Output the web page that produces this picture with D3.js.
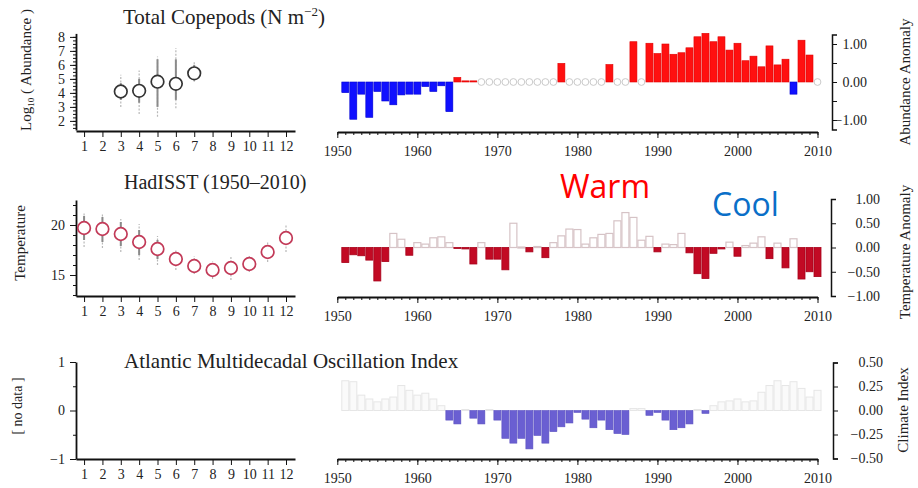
<!DOCTYPE html>
<html>
<head>
<meta charset="utf-8">
<script src="https://cdn.jsdelivr.net/npm/d3@7"></script>
<style>
  body { margin: 0; background: #fff; }
  svg text { font-family: "Liberation Serif", "DejaVu Serif", serif; fill: #222; }
  .axis path, .axis line { stroke: #111; }
  .axis text { font-size: 14px; font-family: "Liberation Serif", serif; fill: #222; }
</style>
</head>
<body>
<svg width="918" height="488"></svg>
<script>
// ---- data ----
const years = d3.range(1951, 2011);
const months = d3.range(1, 13);

// copepod monthly climatology (log10 abundance)
const copMonths = [3, 4, 5, 6, 7];
const copMean = [4.1, 4.15, 4.8, 4.65, 5.4];
const copSdLo = [3.5, 3.3, 3.0, 3.5, 4.9];
const copSdHi = [4.7, 5.0, 6.4, 6.4, 6.0];
const copMin = [3.0, 2.5, 2.3, 2.9, 4.8];
const copMax = [5.3, 5.6, 6.6, 7.2, 6.2];

// HadISST monthly climatology (deg C)
const sstMean = [19.7, 19.6, 19.1, 18.3, 17.6, 16.6, 15.9, 15.5, 15.7, 16.1, 17.3, 18.7];
const sstSdLo = [18.5, 18.3, 17.9, 17.0, 16.6, 15.9, 15.4, 14.9, 15.0, 15.6, 16.7, 18.0];
const sstSdHi = [20.9, 20.8, 20.3, 19.5, 18.5, 17.3, 16.5, 16.0, 16.3, 16.6, 17.9, 19.3];
const sstMin = [17.8, 17.7, 17.3, 16.5, 16.0, 15.5, 15.1, 14.6, 14.5, 15.3, 16.3, 17.3];
const sstMax = [21.3, 21.2, 20.6, 20.1, 18.9, 17.5, 16.9, 16.4, 16.9, 16.9, 18.4, 20.0];

// yearly anomalies 1951-2010 (null = no sample)
const abundanceAnomaly = [
  -0.28, -0.98, -0.32, -0.93, -0.25, -0.50, -0.60, -0.34, -0.32, -0.32,
  -0.12, -0.25, -0.10, -0.78, 0.12, 0.03, 0.03, null, null, null,
  null, null, null, null, null, null, null, 0.49, null, null,
  null, null, null, 0.46, null, null, 1.06, null, 1.02, 0.75,
  1.00, 0.73, 0.77, 0.90, 1.19, 1.28, 1.06, 1.19, 0.84, 1.02,
  0.56, 0.68, 0.40, 0.95, 0.45, 0.60, -0.32, 1.10, 0.71, null
];
const tempAnomaly = [
  -0.31, -0.15, -0.17, -0.26, -0.69, -0.29, 0.29, 0.17, -0.16, 0.10,
  0.07, 0.20, 0.22, 0.10, -0.02, -0.03, -0.34, 0.10, -0.24, -0.24,
  -0.46, 0.50, 0.01, -0.09, 0.02, -0.21, 0.10, 0.24, 0.38, 0.37,
  0.07, 0.20, 0.27, 0.29, 0.55, 0.72, 0.62, 0.15, 0.23, -0.09,
  0.07, 0.06, 0.29, -0.11, -0.54, -0.64, -0.12, -0.03, 0.11, -0.18,
  0.04, 0.09, 0.22, -0.23, 0.09, -0.42, 0.18, -0.65, -0.50, -0.60
];
const amoIndex = [
  0.31, 0.30, 0.16, 0.12, 0.09, 0.12, 0.14, 0.26, 0.21, 0.16,
  0.18, 0.12, 0.05, -0.10, -0.14, 0.01, -0.08, -0.14, 0.01, -0.10,
  -0.29, -0.34, -0.29, -0.40, -0.26, -0.34, -0.22, -0.17, -0.13, -0.02,
  -0.09, -0.18, -0.10, -0.20, -0.24, -0.25, 0.02, 0.02, -0.05, -0.02,
  -0.10, -0.20, -0.18, -0.14, 0.01, -0.03, 0.05, 0.09, 0.10, 0.12,
  0.09, 0.10, 0.19, 0.26, 0.31, 0.26, 0.30, 0.23, 0.14, 0.21
];

const svg = d3.select('svg');

// shared x scales
const xMonth = d3.scaleLinear().domain([0.56, 12.49]).range([76, 295]);
const xYear = d3.scaleLinear().domain([1950, 2010]).range([337.3, 817.5]);
const barW = xYear(1951) - xYear(1950);

function monthAxis(yPos) {
  svg.append('g').attr('class', 'axis')
      .attr('transform', `translate(0,${yPos})`)
      .call(d3.axisBottom(xMonth).tickValues(months).tickSize(6).tickSizeOuter(0).tickPadding(4))
      .call(g => g.select('.domain').attr('stroke-width', 1.8));
}

function yearAxis(yPos) {
  const g = svg.append('g').attr('class', 'axis').attr('transform', `translate(0,${yPos})`);
  g.append('g')
      .call(d3.axisBottom(xYear).tickValues(d3.range(1950, 2011)).tickSize(3).tickFormat(''))
      .call(s => s.select('.domain').remove());
  g.append('g')
      .call(d3.axisBottom(xYear).tickValues(d3.range(1950, 2011, 10)).tickSize(6).tickSizeOuter(0)
        .tickPadding(8).tickFormat(d3.format('d')))
      .call(s => s.select('.domain').attr('stroke-width', 1.8));
}

function leftY(y, major, minor, xPos, fmt) {
  const g = svg.append('g').attr('class', 'axis').attr('transform', `translate(${xPos},0)`);
  g.append('g').call(d3.axisLeft(y).tickValues(minor).tickSize(3).tickFormat(''))
      .call(s => s.select('.domain').remove());
  g.append('g').call(d3.axisLeft(y).tickValues(major).tickSize(6).tickSizeOuter(0).tickPadding(5).tickFormat(fmt))
      .call(s => s.select('.domain').attr('stroke-width', 1.8));
}

function rightY(y, ticks, xPos, labelX, fmt) {
  svg.append('g').attr('class', 'axis').attr('transform', `translate(${xPos},0)`)
      .call(d3.axisRight(y).tickValues(ticks).tickSize(5).tickSizeOuter(5).tickFormat(fmt))
      .call(s => s.select('.domain').attr('stroke-width', 1.5))
      .call(s => s.selectAll('.tick text').attr('text-anchor', 'end').attr('x', labelX));
}

function errorPoints(y, xs, mean, lo, hi, mn, mx, stroke) {
  const g = svg.append('g');
  const idx = d3.range(xs.length);
  g.selectAll('line.outer').data(idx).join('line')
      .attr('x1', i => xMonth(xs[i])).attr('x2', i => xMonth(xs[i]))
      .attr('y1', i => y(mn[i])).attr('y2', i => y(mx[i]))
      .attr('stroke', '#b8b8b8').attr('stroke-width', 1.2).attr('stroke-dasharray', '2,1.5');
  g.selectAll('line.inner').data(idx).join('line')
      .attr('x1', i => xMonth(xs[i])).attr('x2', i => xMonth(xs[i]))
      .attr('y1', i => y(lo[i])).attr('y2', i => y(hi[i]))
      .attr('stroke', '#8a8a8a').attr('stroke-width', 2);
  g.selectAll('circle').data(idx).join('circle')
      .attr('cx', i => xMonth(xs[i])).attr('cy', i => y(mean[i])).attr('r', 6.3)
      .attr('fill', '#fff').attr('stroke', stroke).attr('stroke-width', 1.7);
}

function bars(y, values, posStyle, negStyle) {
  const data = years.map((yr, i) => ({ yr, v: values[i] })).filter(d => d.v !== null);
  svg.append('g').selectAll('rect').data(data).join('rect')
      .attr('x', d => xYear(d.yr) - barW / 2 + 0.5)
      .attr('width', barW - 1)
      .attr('y', d => y(Math.max(0, d.v)))
      .attr('height', d => Math.max(1, Math.abs(y(d.v) - y(0))))
      .each(function (d) {
        const s = d.v >= 0 ? posStyle : negStyle;
        d3.select(this).attr('fill', s.fill).attr('stroke', s.stroke).attr('stroke-width', s.sw);
      });
}

function title(x, y, txt, size) {
  return svg.append('text').attr('x', x).attr('y', y).attr('font-size', size || 21).text(txt);
}

function sideLabel(x, y, txt, size) {
  return svg.append('text').attr('transform', `translate(${x},${y}) rotate(-90)`)
      .attr('text-anchor', 'middle').attr('font-size', size || 15).text(txt);
}

// ---- panel 1: copepods ----
const yCop = d3.scaleLinear().domain([1.35, 8.25]).range([130, 33.4]);
leftY(yCop, d3.range(2, 9), d3.range(1.5, 8.25, 0.25), 76, d3.format('d'));
monthAxis(131);
errorPoints(yCop, copMonths, copMean, copSdLo, copSdHi, copMin, copMax, '#333');
const t1 = title(123, 24, 'Total Copepods (N m');
t1.append('tspan').attr('font-size', 13).attr('dy', -8).text('−2');
t1.append('tspan').attr('dy', 8).text(')');
const l1 = svg.append('text').attr('transform', 'translate(31,70) rotate(-90)')
    .attr('text-anchor', 'middle').attr('font-size', 15);
l1.append('tspan').text('Log');
l1.append('tspan').attr('font-size', 9).attr('dy', 3).text('10');
l1.append('tspan').attr('dy', -3).text(' ( Abundance )');

const yAb = d3.scaleLinear().domain([-1.25, 1.25]).range([129.5, 34.5]);
bars(yAb, abundanceAnomaly,
  { fill: '#ff1010', stroke: '#e00000', sw: 0.6 },
  { fill: '#1010ff', stroke: '#0000d0', sw: 0.6 });
svg.append('g').selectAll('circle')
    .data(years.filter((yr, i) => abundanceAnomaly[i] === null))
    .join('circle')
    .attr('cx', d => xYear(d)).attr('cy', yAb(0)).attr('r', 3.4)
    .attr('fill', '#fff').attr('stroke', '#cacaca').attr('stroke-width', 1);
yearAxis(132);
rightY(yAb, [-1, -0.5, 0, 0.5, 1], 832, 35, d => (d % 1 === 0 ? d3.format('.2f')(d).replace('-', '−') : ''));
sideLabel(910, 82, 'Abundance Anomaly', 15);

// ---- panel 2: HadISST ----
const ySst = d3.scaleLinear().domain([12.9, 22.5]).range([296, 200]);
leftY(ySst, [15, 20], d3.range(13, 23, 1), 76, d3.format('d'));
monthAxis(296);
errorPoints(ySst, months, sstMean, sstSdLo, sstSdHi, sstMin, sstMax, '#c23a58');
title(124, 189, 'HadISST (1950–2010)', 20);
sideLabel(25, 243, 'Temperature', 15);

const yTa = d3.scaleLinear().domain([-1, 1]).range([296, 199]);
bars(yTa, tempAnomaly,
  { fill: '#fff', stroke: '#d6c3c6', sw: 1.2 },
  { fill: '#c20a24', stroke: '#a8001a', sw: 0.8 });
yearAxis(297);
rightY(yTa, [-1, -0.5, 0, 0.5, 1], 831, 49, d => d3.format('.2f')(d).replace('-', '−'));
sideLabel(910, 252, 'Temperature Anomaly', 15);

svg.append('text').attr('x', 560).attr('y', 198).attr('font-size', 32)
    .style('font-family', '"Open Sans", sans-serif').style('fill', '#ff0000').text('Warm');
svg.append('text').attr('x', 712).attr('y', 216).attr('font-size', 32)
    .style('font-family', '"Open Sans", sans-serif').style('fill', '#0a6fc8').text('Cool');

// ---- panel 3: AMO ----
const yNo = d3.scaleLinear().domain([-1, 1]).range([459, 362]);
leftY(yNo, [-1, 0, 1], [-0.5, 0.5], 76, d => d3.format('d')(d).replace('-', '−'));
monthAxis(459);
title(124, 368, 'Atlantic Multidecadal Oscillation Index');
sideLabel(22, 406, '[ no data ]', 14);

const yAmo = d3.scaleLinear().domain([-0.5, 0.5]).range([458.5, 362.5]);
bars(yAmo, amoIndex,
  { fill: '#fafafa', stroke: '#e6e6e6', sw: 1 },
  { fill: '#6a5fd2', stroke: '#5a50c0', sw: 0.6 });
yearAxis(459);
rightY(yAmo, [-0.5, -0.25, 0, 0.25, 0.5], 833, 50, d => d3.format('.2f')(d).replace('-', '−'));
sideLabel(908, 410, 'Climate Index', 15);
</script>
</body>
</html>
